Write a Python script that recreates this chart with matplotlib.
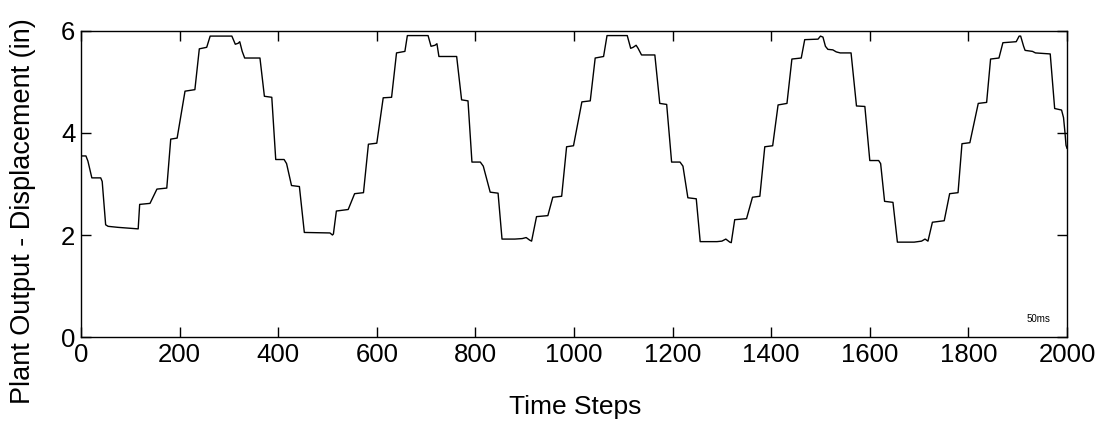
import matplotlib
matplotlib.use('Agg')
import matplotlib.pyplot as plt

plt.rcParams['font.family'] = ['Liberation Sans', 'DejaVu Sans']

# breakpoints of the displacement trace (time step, inches)
steps = [0, 10, 14, 22, 40, 43, 50, 55, 75, 116, 119, 140, 154, 174, 182, 195,
         211, 231, 240, 255, 262, 306, 313, 319, 322, 327, 332, 363, 372, 387,
         395, 412, 417, 427, 443, 453, 505, 510, 512,
         518, 542, 555, 573, 583, 600, 613, 630, 640, 657, 662, 704, 710, 718,
         722, 726, 762, 772, 785, 793, 810, 816, 830, 846, 854, 880, 895, 903,
         910, 914,
         924, 947, 957, 975, 985, 999, 1016, 1033, 1043, 1060, 1067, 1108, 1115,
         1120, 1126, 1130, 1137, 1164, 1174, 1188, 1198, 1215, 1221, 1231, 1248,
         1256, 1290, 1300, 1308, 1316, 1319,
         1326, 1350, 1362, 1377, 1387, 1403, 1414, 1432, 1442, 1461, 1468, 1495,
         1500, 1505, 1510, 1515, 1525, 1532, 1540, 1562, 1573, 1590, 1600, 1618,
         1622, 1630, 1647, 1656, 1690, 1705, 1712, 1718,
         1727, 1751, 1762, 1779, 1787, 1803, 1820, 1837, 1845, 1862, 1870, 1897,
         1903, 1906, 1912, 1915, 1930, 1936, 1966, 1975, 1989, 1993, 1996, 1998,
         2000]
disp = [3.55, 3.55, 3.45, 3.12, 3.12, 3.05, 2.2, 2.17, 2.15, 2.12, 2.6, 2.62, 2.9, 2.92, 3.88, 3.9,
        4.82, 4.85, 5.65, 5.68, 5.9, 5.9, 5.74, 5.76, 5.79, 5.6, 5.47, 5.47, 4.72, 4.7,
        3.48, 3.48, 3.4, 2.97, 2.95, 2.05, 2.04, 2.0, 2.02,
        2.47, 2.5, 2.81, 2.83, 3.78, 3.8, 4.69, 4.7, 5.57, 5.6, 5.91, 5.91, 5.7, 5.72,
        5.75, 5.5, 5.5, 4.65, 4.63, 3.43, 3.43, 3.35, 2.84, 2.82, 1.92, 1.92, 1.93, 1.95,
        1.9, 1.88,
        2.36, 2.38, 2.74, 2.76, 3.73, 3.75, 4.61, 4.63, 5.47, 5.5, 5.91, 5.91, 5.66,
        5.68, 5.72, 5.66, 5.53, 5.53, 4.58, 4.56, 3.43, 3.43, 3.35, 2.73, 2.71,
        1.87, 1.87, 1.88, 1.92, 1.86, 1.85,
        2.3, 2.32, 2.74, 2.76, 3.73, 3.75, 4.55, 4.58, 5.45, 5.47, 5.83, 5.84,
        5.9, 5.88, 5.7, 5.64, 5.63, 5.59, 5.57, 5.57, 4.53, 4.52, 3.46, 3.46,
        3.4, 2.66, 2.64, 1.86, 1.86, 1.88, 1.92, 1.88,
        2.25, 2.28, 2.81, 2.83, 3.79, 3.81, 4.58, 4.6, 5.45, 5.47, 5.77, 5.79,
        5.9, 5.9, 5.7, 5.62, 5.6, 5.57, 5.55, 4.48, 4.45, 4.3, 4.0, 3.76,
        3.7]

x_ticks = [0, 200, 400, 600, 800, 1000, 1200, 1400, 1600, 1800, 2000]
y_ticks = [0, 2, 4, 6]

fig = plt.figure(figsize=(11.05, 4.28), dpi=100)
ax = fig.add_axes([0.0733, 0.2126, 0.8923, 0.715])

ax.plot(steps, disp, color='black', linewidth=1.0)

ax.set_xlim(0, 2000)
ax.set_ylim(0, 6)
ax.set_xticks(x_ticks)
ax.set_yticks(y_ticks)
ax.tick_params(direction='in', length=7, width=1, top=True, right=True,
               labelsize=18.5, pad=4)
for sp in ax.spines.values():
    sp.set_linewidth(1.0)

ax.set_xlabel('Time Steps', fontsize=19)
ax.set_ylabel('Plant Output - Displacement (in)', fontsize=19.5)
ax.xaxis.set_label_coords(0.501, -0.19)
ax.yaxis.set_label_coords(-0.046, 0.41)

ax.text(0.983, 0.06, '50ms', transform=ax.transAxes, ha='right', va='center',
        fontsize=7)

fig.savefig('out.png', dpi=100)
